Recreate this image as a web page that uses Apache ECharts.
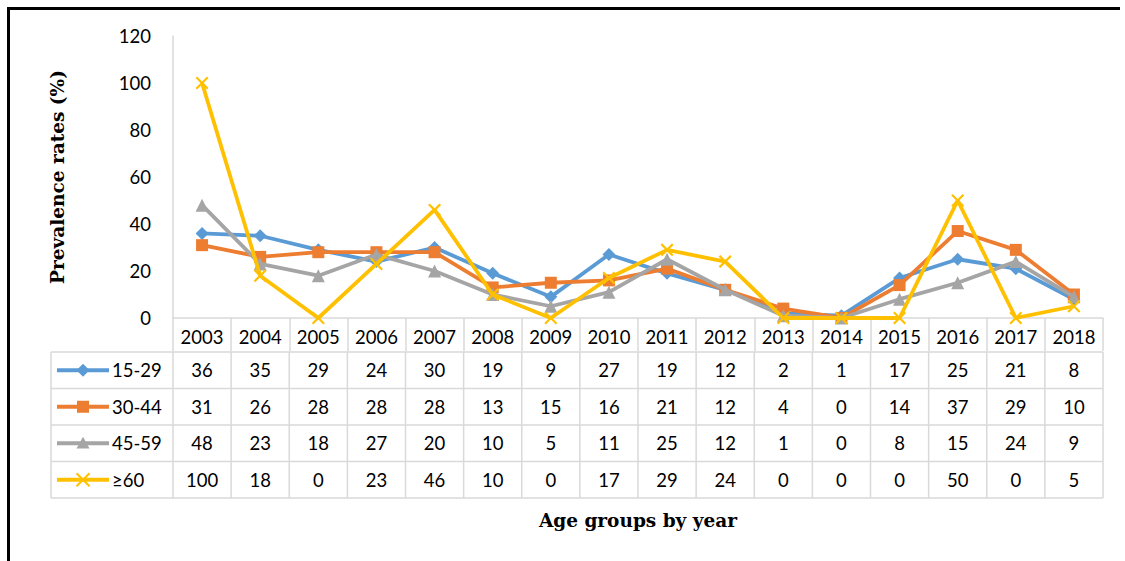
<!DOCTYPE html>
<html>
<head>
<meta charset="utf-8">
<script src="https://cdn.jsdelivr.net/npm/echarts@6/dist/echarts.min.js"></script>
<style>
  html, body { margin: 0; padding: 0; background: #fff; }
  #chart { width: 1125px; height: 561px; }
</style>
</head>
<body>
<div id="chart"></div>
<script>
// Prevalence rates by age group, 2003-2018
const years = ['2003','2004','2005','2006','2007','2008','2009','2010','2011','2012','2013','2014','2015','2016','2017','2018'];
const groupNames = ['15-29', '30-44', '45-59', '≥60'];
const age15to29 = [36, 35, 29, 24, 30, 19, 9, 27, 19, 12, 2, 1, 17, 25, 21, 8];
const age30to44 = [31, 26, 28, 28, 28, 13, 15, 16, 21, 12, 4, 0, 14, 37, 29, 10];
const age45to59 = [48, 23, 18, 27, 20, 10, 5, 11, 25, 12, 1, 0, 8, 15, 24, 9];
const age60plus = [100, 18, 0, 23, 46, 10, 0, 17, 29, 24, 0, 0, 0, 50, 0, 5];
const yTicks = { min: 0, max: 120, step: 20 };

const groupValues = [age15to29, age30to44, age45to59, age60plus];
const colors = ['#5B9BD5', '#ED7D31', '#A5A5A5', '#FFC000'];
const crossPath = 'path://M0,1.2L1.2,0L5,3.8L8.8,0L10,1.2L6.2,5L10,8.8L8.8,10L5,6.2L1.2,10L0,8.8L3.8,5Z';
const symbols = ['diamond', 'rect', 'triangle', crossPath];
const symbolSizes = [13, 12, 13, 13];

const gridColor = '#D9D9D9';
const numFont = 'Lato, "Open Sans", sans-serif';
const titleFont = '"DejaVu Serif", "Liberation Serif", serif';

const chart = echarts.init(document.getElementById('chart'), null, { renderer: 'svg' });

const option = {
  animation: false,
  backgroundColor: '#fff',
  grid: { left: 173, right: 22, top: 36, bottom: 243, containLabel: false },
  xAxis: {
    type: 'category',
    data: years,
    boundaryGap: true,
    name: 'Age groups by year',
    nameLocation: 'middle',
    nameGap: 193,
    nameTextStyle: { fontFamily: titleFont, fontWeight: 'bold', fontSize: 18.5, color: '#000' },
    axisLine: { show: true, lineStyle: { color: gridColor, width: 1.5 } },
    axisTick: { show: true, inside: false, length: 33, alignWithLabel: false, lineStyle: { color: gridColor, width: 1.5 } },
    axisLabel: { margin: 9, fontFamily: numFont, fontSize: 18.5, color: '#000' },
    splitLine: { show: false }
  },
  yAxis: {
    type: 'value',
    min: yTicks.min,
    max: yTicks.max,
    interval: yTicks.step,
    name: 'Prevalence rates (%)',
    nameLocation: 'middle',
    nameGap: 106,
    nameRotate: 90,
    nameTextStyle: { fontFamily: titleFont, fontWeight: 'bold', fontSize: 18.5, color: '#000' },
    axisLine: { show: true, lineStyle: { color: gridColor, width: 1.5 } },
    axisTick: { show: false },
    axisLabel: { margin: 22, fontFamily: numFont, fontSize: 18.5, color: '#000' },
    splitLine: { show: false }
  },
  series: groupNames.map((name, i) => ({
    name: name,
    type: 'line',
    data: groupValues[i],
    symbol: symbols[i],
    symbolSize: symbolSizes[i],
    showAllSymbol: true,
    lineStyle: { color: colors[i], width: 3.8 },
    itemStyle: { color: colors[i] },
    z: 2 + i
  }))
};

chart.setOption(option);

// Data table beneath the axis, aligned to the category columns
function tableGraphics() {
  const centers = years.map(y => chart.convertToPixel({ xAxisIndex: 0 }, y));
  const colW = centers[1] - centers[0];
  const leftEdge = centers[0] - colW / 2;
  const rightEdge = centers[centers.length - 1] + colW / 2;
  const labelLeft = 51;
  const axisY = chart.convertToPixel({ yAxisIndex: 0 }, 0);
  const rowTop = axisY + 34;
  const rowH = 36.5;
  const els = [];
  const line = (x1, y1, x2, y2, color, w) => ({
    type: 'line', silent: true,
    shape: { x1, y1, x2, y2 },
    style: { stroke: color, lineWidth: w }
  });

  // grid lines
  for (let r = 0; r <= groupNames.length; r++) {
    const y = rowTop + r * rowH;
    els.push(line(labelLeft, y, rightEdge, y, gridColor, 1.5));
  }
  const bottom = rowTop + groupNames.length * rowH;
  els.push(line(labelLeft, rowTop, labelLeft, bottom, gridColor, 1.5));
  for (let c = 0; c <= years.length; c++) {
    const x = leftEdge + c * colW;
    els.push(line(x, rowTop, x, bottom, gridColor, 1.5));
  }

  groupNames.forEach((name, r) => {
    const cy = rowTop + r * rowH + rowH / 2;
    // legend key: line segment with marker
    els.push(line(57, cy, 109, cy, colors[r], 3.8));
    const mx = 83, s = symbolSizes[r] / 2;
    let marker;
    if (r === 0) {
      marker = { type: 'polygon', shape: { points: [[mx, cy - s], [mx + s, cy], [mx, cy + s], [mx - s, cy]] }, style: { fill: colors[r] } };
    } else if (r === 1) {
      marker = { type: 'rect', shape: { x: mx - s, y: cy - s, width: 2 * s, height: 2 * s }, style: { fill: colors[r] } };
    } else if (r === 2) {
      marker = { type: 'polygon', shape: { points: [[mx, cy - s], [mx + s, cy + s * 0.8], [mx - s, cy + s * 0.8]] }, style: { fill: colors[r] } };
    } else {
      marker = { type: 'group', children: [
        line(mx - s, cy - s, mx + s, cy + s, colors[r], 2),
        line(mx - s, cy + s, mx + s, cy - s, colors[r], 2)
      ] };
    }
    marker.silent = true;
    els.push(marker);
    els.push({
      type: 'text', silent: true,
      style: { x: 112, y: cy, text: name, fill: '#000', font: '18.5px ' + numFont, verticalAlign: 'middle', align: 'left' }
    });
    groupValues[r].forEach((v, c) => {
      els.push({
        type: 'text', silent: true,
        style: { x: centers[c], y: cy, text: String(v), fill: '#000', font: '18.5px ' + numFont, verticalAlign: 'middle', align: 'center' }
      });
    });
  });

  // outer frame lines along the top and left edges
  els.push(line(7, 8.5, 1120, 8.5, '#000', 3));
  els.push(line(8.5, 7, 8.5, 561, '#000', 3));
  return els;
}

chart.setOption({ graphic: { elements: tableGraphics() } });
</script>
</body>
</html>
